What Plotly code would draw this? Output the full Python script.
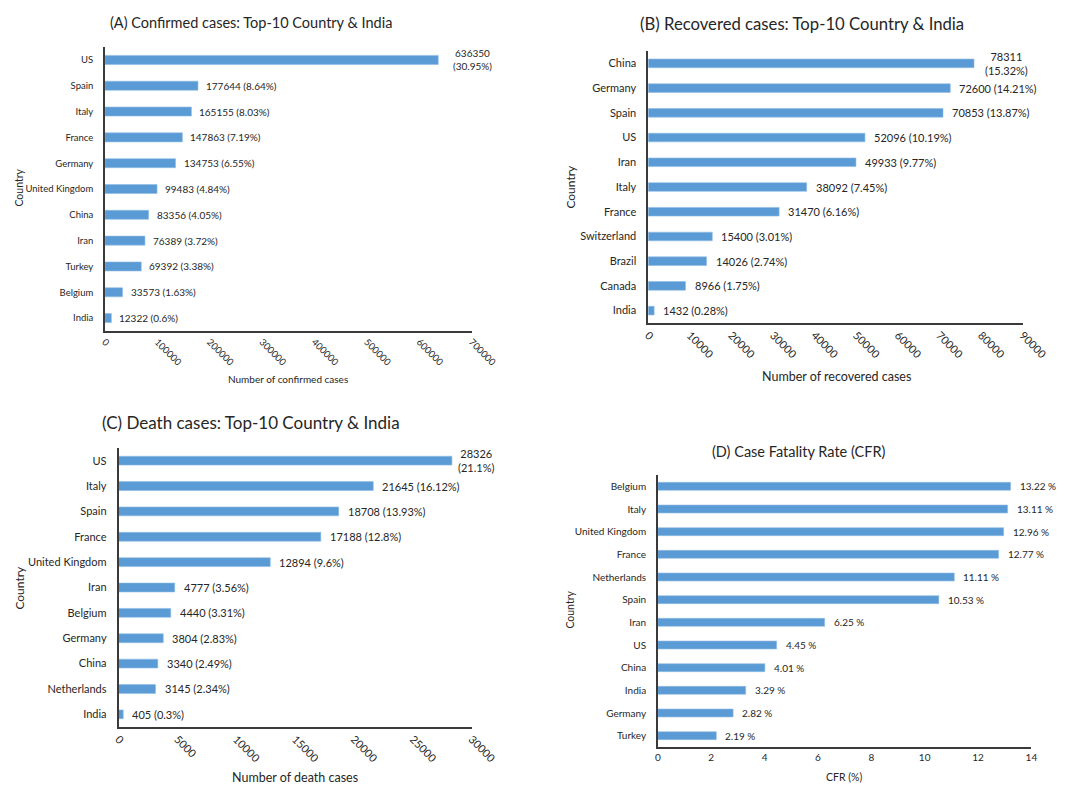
import plotly.graph_objects as go

W, H = 1071, 785

# ---------------- data ----------------
a_countries = ["US", "Spain", "Italy", "France", "Germany", "United Kingdom",
               "China", "Iran", "Turkey", "Belgium", "India"]
a_values = [636350, 177644, 165155, 147863, 134753, 99483, 83356, 76389, 69392, 33573, 12322]
a_pct = ["30.95", "8.64", "8.03", "7.19", "6.55", "4.84", "4.05", "3.72", "3.38", "1.63", "0.6"]

b_countries = ["China", "Germany", "Spain", "US", "Iran", "Italy", "France",
               "Switzerland", "Brazil", "Canada", "India"]
b_values = [78311, 72600, 70853, 52096, 49933, 38092, 31470, 15400, 14026, 8966, 1432]
b_pct = ["15.32", "14.21", "13.87", "10.19", "9.77", "7.45", "6.16", "3.01", "2.74", "1.75", "0.28"]

c_countries = ["US", "Italy", "Spain", "France", "United Kingdom", "Iran", "Belgium",
               "Germany", "China", "Netherlands", "India"]
c_values = [28326, 21645, 18708, 17188, 12894, 4777, 4440, 3804, 3340, 3145, 405]
c_pct = ["21.1", "16.12", "13.93", "12.8", "9.6", "3.56", "3.31", "2.83", "2.49", "2.34", "0.3"]

d_countries = ["Belgium", "Italy", "United Kingdom", "France", "Netherlands", "Spain",
               "Iran", "US", "China", "India", "Germany", "Turkey"]
d_values = [13.22, 13.11, 12.96, 12.77, 11.11, 10.53, 6.25, 4.45, 4.01, 3.29, 2.82, 2.19]

BAR = "#5B9BD5"
TXT = "#262626"
AXL = "#3a3a3a"
FONT = "Lato"


def px(x):
    return x / W


def py(y):
    return 1 - y / H


panels = [
    dict(name="A", cats=a_countries, vals=a_values,
         labels=[f"{v} ({p}%)" for v, p in zip(a_values, a_pct)],
         xdom=[px(103), px(481)], ydom=[py(331), py(47)], xrange=[0, 700000], dtick=100000,
         tickangle=45, tickfs=9.5, catfs=9.5, lblfs=10, shift=6, topshift=13,
         title="(A) Confirmed cases: Top-10 Country & India", tpos=(254, 23), tfs=14.5,
         xtitle="Number of confirmed cases", xtpos=(292, 379), xtfs=10,
         ypos=(14, 188), ytfs=10.5, wrap_top=True),
    dict(name="B", cats=b_countries, vals=b_values,
         labels=[f"{v} ({p}%)" for v, p in zip(b_values, b_pct)],
         xdom=[px(663), px(1049)], ydom=[py(323), py(51)], xrange=[0, 90000], dtick=10000,
         tickangle=45, tickfs=11, catfs=11, lblfs=11, shift=7, topshift=9,
         title="(B) Recovered cases: Top-10 Country & India", tpos=(822, 24), tfs=16.7,
         xtitle="Number of recovered cases", xtpos=(857, 376), xtfs=12.5,
         ypos=(583, 187), ytfs=12, wrap_top=True),
    dict(name="C", cats=c_countries, vals=c_values,
         labels=[f"{v} ({p}%)" for v, p in zip(c_values, c_pct)],
         xdom=[px(117), px(481)], ydom=[py(727), py(448)], xrange=[0, 30000], dtick=5000,
         tickangle=45, tickfs=11, catfs=11, lblfs=11, shift=7, topshift=4,
         title="(C) Death cases: Top-10 Country & India", tpos=(254, 422), tfs=17,
         xtitle="Number of death cases", xtpos=(299, 777), xtfs=12.5,
         ypos=(14, 588), ytfs=12, wrap_top=True),
    dict(name="D", cats=d_countries, vals=d_values,
         labels=[f"{v:.2f} %" for v in d_values],
         xdom=[px(673), px(1058)], ydom=[py(747), py(475)], xrange=[0, 14], dtick=2,
         tickangle=0, tickfs=10, catfs=10, lblfs=10, shift=7, topshift=7,
         title="(D) Case Fatality Rate (CFR)", tpos=(818, 451), tfs=14.5,
         xtitle="CFR (%)", xtpos=(865, 777), xtfs=10.5,
         ypos=(582, 610), ytfs=10.5, wrap_top=False),
]

fig = go.Figure()
annotations = []
layout = {}

for i, p in enumerate(panels):
    k = "" if i == 0 else str(i + 1)
    xa, ya = "x" + k, "y" + k
    n = len(p["cats"])
    fig.add_trace(go.Bar(
        x=p["vals"], y=p["cats"], orientation="h", width=0.35,
        marker=dict(color=BAR, line=dict(color="#8FBCE6", width=0.6)),
        xaxis=xa, yaxis=ya, showlegend=False, hoverinfo="x+y",
    ))
    layout["xaxis" + k] = dict(
        domain=p["xdom"], anchor=ya, range=p["xrange"], dtick=p["dtick"], tick0=0,
        tickformat="d", tickangle=p["tickangle"], showgrid=False, zeroline=False,
        showline=True, linecolor=AXL, linewidth=1.5, ticks="",
        tickfont=dict(family=FONT, size=p["tickfs"], color=TXT), fixedrange=True,
    )
    layout["yaxis" + k] = dict(
        domain=p["ydom"], anchor=xa, type="category", categoryorder="array",
        categoryarray=p["cats"], range=[n - 0.5, -0.5], showgrid=False, zeroline=False,
        showline=True, linecolor=AXL, linewidth=1.5, ticks="", ticklabelstandoff=8,
        tickfont=dict(family=FONT, size=p["catfs"], color=TXT), fixedrange=True,
    )
    # data labels
    for j, (c, v, lab) in enumerate(zip(p["cats"], p["vals"], p["labels"])):
        txt = lab
        shift = p["shift"]
        if j == 0 and p["wrap_top"]:
            txt = lab.replace(" (", "<br>(")
            shift = p["topshift"]
        annotations.append(dict(
            x=v, y=c, xref=xa, yref=ya, text=txt, showarrow=False,
            xanchor="left", yanchor="middle", xshift=shift, align="center",
            font=dict(family=FONT, size=p["lblfs"], color=TXT),
        ))
    # title
    annotations.append(dict(
        x=px(p["tpos"][0]), y=py(p["tpos"][1]), xref="paper", yref="paper",
        text=p["title"], showarrow=False, xanchor="center", yanchor="middle",
        font=dict(family=FONT, size=p["tfs"], color=TXT),
    ))
    # x title
    annotations.append(dict(
        x=px(p["xtpos"][0]), y=py(p["xtpos"][1]), xref="paper", yref="paper",
        text=p["xtitle"], showarrow=False, xanchor="center", yanchor="middle",
        font=dict(family=FONT, size=p["xtfs"], color=TXT),
    ))
    # y title
    annotations.append(dict(
        x=px(p["ypos"][0]), y=py(p["ypos"][1]), xref="paper", yref="paper",
        text="Country", textangle=-90, showarrow=False, xanchor="center", yanchor="middle",
        font=dict(family=FONT, size=p["ytfs"], color=TXT),
    ))

fig.update_layout(
    width=W, height=H, autosize=False, margin=dict(l=0, r=0, t=0, b=0, pad=0),
    paper_bgcolor="white", plot_bgcolor="white",
    annotations=annotations, **layout,
)

fig.write_html("out.html", config={"responsive": False, "displayModeBar": False})
